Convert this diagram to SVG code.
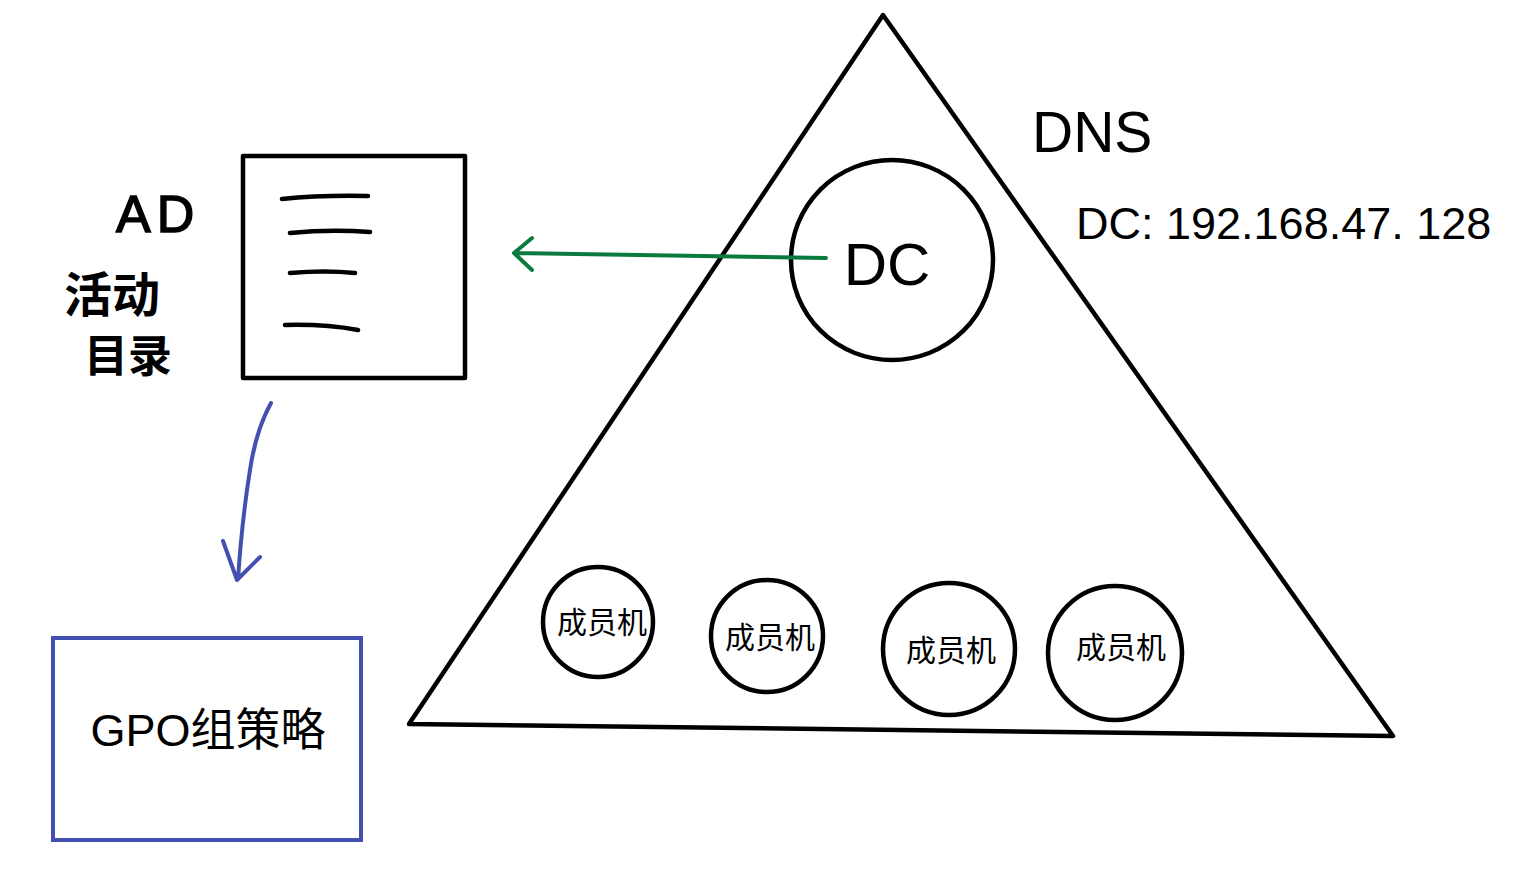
<svg xmlns="http://www.w3.org/2000/svg" width="1526" height="871" viewBox="0 0 1526 871">
<style>
.k{fill:none;stroke:#000;stroke-width:4.5;stroke-linecap:round;stroke-linejoin:round}
.t{font-family:"Liberation Sans","Noto Sans CJK SC",sans-serif;fill:#000}
.m{font-family:"Noto Sans CJK SC",sans-serif;font-size:30px;fill:#000;text-anchor:middle}
.h{font-family:"Noto Sans CJK SC",sans-serif;fill:#000;font-weight:bold}
</style>
<rect width="1526" height="871" fill="#fff"/>
<g id="dns">
<path class="k" d="M883,15 L1393,736 L409,724 Z"/>
<text class="t" x="1032" y="152" font-size="57">DNS</text>
<text class="t" x="1076" y="239" font-size="45">DC: 192.168.47. 128</text>
</g>
<g id="dc">
<ellipse class="k" cx="892" cy="260" rx="101" ry="100"/>
<text class="t" x="887" y="285" font-size="60" text-anchor="middle">DC</text>
</g>
<g id="m1"><ellipse class="k" cx="598" cy="622" rx="55" ry="55"/><text class="m" x="602" y="633">成员机</text></g>
<g id="m2"><ellipse class="k" cx="767" cy="636" rx="56" ry="56"/><text class="m" x="770" y="648">成员机</text></g>
<g id="m3"><ellipse class="k" cx="949" cy="649" rx="66" ry="66"/><text class="m" x="951" y="661">成员机</text></g>
<g id="m4"><ellipse class="k" cx="1115" cy="653" rx="67" ry="67"/><text class="m" x="1121" y="658">成员机</text></g>
<g id="ad">
<rect class="k" x="243" y="156" width="222" height="222" stroke-linecap="butt" stroke-linejoin="miter"/>
<path class="k" d="M282,199 Q320,195 368,196 M290,233 Q330,229 370,232 M290,273 Q325,270 355,273 M285,325 Q325,324 358,330" stroke-width="5"/>
<text x="116" y="232" font-size="52" font-family="Liberation Sans" fill="#000" stroke="#000" stroke-width="1.5" letter-spacing="6">AD</text>
<text class="h" x="64" y="312" font-size="48">活动</text>
<text class="h" x="84" y="372" font-size="44">目录</text>
</g>
<g id="gpo">
<rect x="53" y="638" width="308" height="202" fill="none" stroke="#4450b0" stroke-width="4"/>
<text class="t" x="208" y="746" font-size="45" text-anchor="middle">GPO组策略</text>
</g>
<g id="connectors" fill="none" stroke-linecap="round" stroke-linejoin="round" stroke-width="4">
<path d="M826,258 L514,253 M532,238 L514,253 L532,270" stroke="#0b7a3e"/>
<path d="M271,403 Q256,430 250,470 Q242,520 238,579 M223,541 L237,580 L260,557" stroke="#4450b0"/>
</g>
</svg>
